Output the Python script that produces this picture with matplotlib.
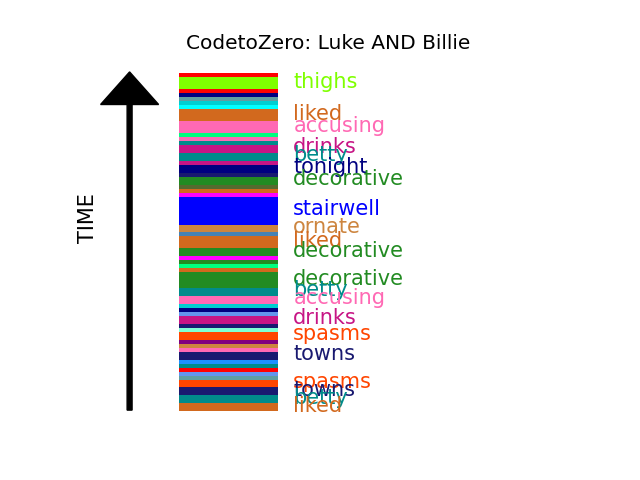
import matplotlib
matplotlib.use('Agg')
import matplotlib.pyplot as plt

# word segments, read from top of the strip to bottom
seg_words = ['', 'thighs', '', '', '', '', '', 'liked', 'accusing', '', '',
             '', 'drinks', 'betty', '', 'tonight', '', 'decorative', '', '', '',
             'stairwell', 'ornate', '', 'liked', 'decorative', '', '', '', '',
             'decorative', 'betty', 'accusing', '', '', '', 'drinks', '', '',
             'spasms', '', '', '', 'towns', '', '', '', '', '', 'spasms', 'towns',
             'betty', 'liked']
seg_units = [1, 3, 1, 1, 1, 1, 1, 3, 3, 1, 1,
             1, 2, 2, 1, 2, 1, 2, 1, 1, 1,
             7, 2, 1, 3, 2, 1, 1, 1, 1,
             4, 2, 2, 1, 1, 1, 2, 1, 1,
             2, 1, 1, 1, 2, 1, 1, 1, 1, 1, 2, 2,
             2, 2]
seg_colors = ['red', 'chartreuse', 'red', 'navy', 'cadetblue', 'darkturquoise', 'cyan',
              'chocolate', 'hotpink', 'springgreen', 'hotpink',
              'darkcyan', 'mediumvioletred', 'darkcyan', 'mediumvioletred', 'navy',
              'midnightblue', 'forestgreen', 'darkolivegreen', 'chocolate', 'magenta',
              'blue', 'peru', 'steelblue', 'chocolate', 'forestgreen', 'magenta',
              'forestgreen', 'springgreen', 'chocolate',
              'forestgreen', 'darkcyan', 'hotpink', 'darkturquoise', 'navy',
              'cornflowerblue', 'mediumvioletred', 'midnightblue', 'aquamarine',
              'orangered', 'purple', 'peru', 'hotpink', 'midnightblue', 'dodgerblue',
              'darkcyan', 'red', 'cornflowerblue', 'cadetblue', 'orangered',
              'midnightblue', 'darkcyan', 'chocolate']

total = sum(seg_units)

fig, ax = plt.subplots(figsize=(6.4, 4.8), dpi=100)

top = total
for w, u, c in zip(seg_words, seg_units, seg_colors):
    ax.bar(3, u, width=2, bottom=top - u, color=c, linewidth=0)
    # only longer words get a label
    if u >= 2:
        ax.text(4.3, top - u / 2 + 0.4, w, color=c, fontsize=15, ha='left', va='center')
    top -= u

ax.arrow(1, 0.3, 0, total + 0.1, width=0.1, head_width=1.17, head_length=8.2,
         length_includes_head=True, color='black')
ax.text(0.17, 48.5, 'TIME', rotation=90, fontsize=15, ha='center', va='center')

ax.set_xlim(0, 10)
ax.set_ylim(-4, total + 4)
ax.axis('off')
ax.set_title('CodetoZero: Luke AND Billie', fontsize=14.5)

plt.savefig('out.png')
